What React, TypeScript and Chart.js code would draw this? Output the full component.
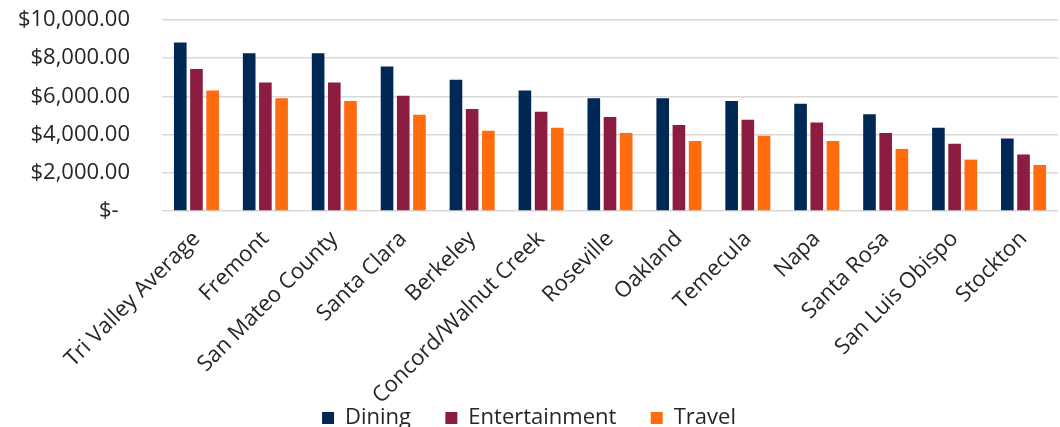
import React, { useEffect, useRef } from "react";
import { Chart, registerables } from "chart.js";

Chart.register(...registerables);

const categories = [
  "Tri Valley Average",
  "Fremont",
  "San Mateo County",
  "Santa Clara",
  "Berkeley",
  "Concord/Walnut Creek",
  "Roseville",
  "Oakland",
  "Temecula",
  "Napa",
  "Santa Rosa",
  "San Luis Obispo",
  "Stockton",
];

const dining = [8820, 8260, 8260, 7560, 6870, 6310, 5900, 5900, 5760, 5610, 5060, 4360, 3800];
const entertainment = [7430, 6730, 6730, 6040, 5340, 5200, 4920, 4500, 4780, 4640, 4080, 3520, 2960];
const travel = [6310, 5900, 5760, 5040, 4200, 4360, 4080, 3660, 3940, 3660, 3250, 2690, 2410];

const yTicks = [0, 2000, 4000, 6000, 8000, 10000];

const FONT = "'Open Sans', 'Noto Sans', sans-serif";
const TEXT = "#262626";

function fmt(v: number): string {
  if (v === 0) return "$-  ";
  return "$" + v.toLocaleString("en-US", { minimumFractionDigits: 2, maximumFractionDigits: 2 });
}

export default function App() {
  const ref = useRef<HTMLCanvasElement | null>(null);

  useEffect(() => {
    document.body.style.margin = "0";
    const ctx = ref.current!.getContext("2d")!;
    const chart = new Chart(ctx, {
      type: "bar",
      data: {
        labels: categories,
        datasets: [
          { label: "Dining", data: dining, backgroundColor: "#002855" },
          { label: "Entertainment", data: entertainment, backgroundColor: "#8c1d40" },
          { label: "Travel", data: travel, backgroundColor: "#ff6b0d" },
        ],
      },
      options: {
        animation: false,
        responsive: false,
        maintainAspectRatio: false,
        layout: { padding: { top: 20, right: 2, left: 0, bottom: -12 } },
        datasets: {
          bar: { categoryPercentage: 0.705, barPercentage: 0.78 },
        },
        plugins: {
          tooltip: { enabled: false },
          legend: {
            position: "bottom",
            labels: {
              color: TEXT,
              font: { family: FONT, size: 22 },
              boxWidth: 12,
              boxHeight: 12,
              padding: 0,
              generateLabels: (chart: any) => {
                const items = Chart.defaults.plugins.legend.labels.generateLabels(chart);
                return items.map((it: any, i: number) => ({
                  ...it,
                  text: i < items.length - 1 ? it.text + "      " : it.text,
                  lineWidth: 0,
                }));
              },
            },
          },
        },
        scales: {
          x: {
            grid: { display: false },
            border: { display: false },
            afterFit: (scale: any) => {
              scale.height = 196;
            },
            ticks: {
              color: TEXT,
              font: { family: FONT, size: 22 },
              minRotation: 45,
              maxRotation: 45,
              autoSkip: false,
              padding: 7,
            },
          },
          y: {
            min: 0,
            max: 10000,
            afterBuildTicks: (scale: any) => {
              scale.ticks = yTicks.map((v) => ({ value: v }));
            },
            afterFit: (scale: any) => {
              scale.width = 162;
              scale.paddingTop = 0;
              scale.paddingBottom = 0;
            },
            grid: { color: "#d9d9d9", lineWidth: 1.5, drawTicks: false },
            border: { display: false },
            ticks: {
              color: TEXT,
              font: { family: FONT, size: 22 },
              padding: 32,
              autoSkip: false,
              callback: (v: any) => fmt(Number(v)),
            },
          },
        },
      },
    });
    return () => chart.destroy();
  }, []);

  return (
    <div style={{ position: "absolute", left: 0, top: 0, width: 1060, height: 427, background: "#fff" }}>
      <canvas ref={ref} width={1060} height={427} style={{ width: 1060, height: 427 }} />
    </div>
  );
}
